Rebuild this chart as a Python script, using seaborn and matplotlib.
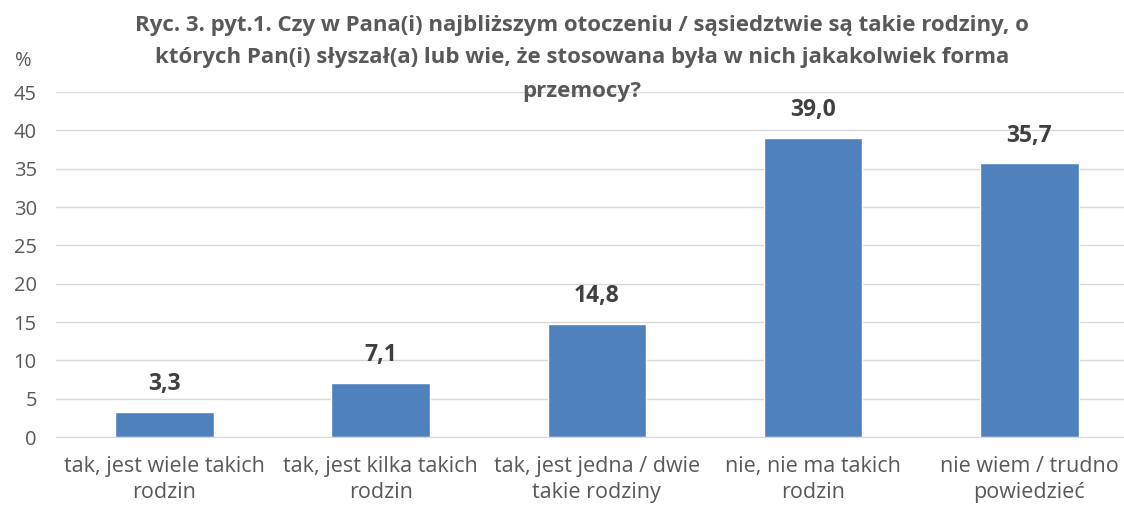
import matplotlib
matplotlib.use("Agg")
import matplotlib.pyplot as plt
import seaborn as sns
import pandas as pd

categories = [
    "tak, jest wiele takich\nrodzin",
    "tak, jest kilka takich\nrodzin",
    "tak, jest jedna / dwie\ntakie rodziny",
    "nie, nie ma takich\nrodzin",
    "nie wiem / trudno\npowiedzieć",
]
values = [3.3, 7.1, 14.8, 39.0, 35.7]
value_labels = ["3,3", "7,1", "14,8", "39,0", "35,7"]
y_ticks = [0, 5, 10, 15, 20, 25, 30, 35, 40, 45]

title_lines = [
    "Ryc. 3. pyt.1. Czy w Pana(i) najbliższym otoczeniu / sąsiedztwie są takie rodziny, o",
    "których Pan(i) słyszał(a) lub wie, że stosowana była w nich jakakolwiek forma",
    "przemocy?",
]

sns.set_style("white")
plt.rcParams['font.family'] = ['Open Sans', 'DejaVu Sans']

df = pd.DataFrame({"cat": categories, "val": values})

fig = plt.figure(figsize=(11.24, 5.07), dpi=100)
ax = fig.add_axes([0.05, 0.138, 0.962, 0.6805])

ax.set_axisbelow(True)
ax.yaxis.grid(True, color="#D9D9D9", linewidth=1)

sns.barplot(data=df, x="cat", y="val", color="#4F81BD", width=0.455,
            saturation=1, ax=ax)

for i, (v, lab) in enumerate(zip(values, value_labels)):
    ax.text(i, v + 3.6, lab, ha="center", va="center", fontsize=16.5,
            fontweight="bold", color="#404040")

ax.set_ylim(0, 45)
ax.set_xlim(-0.5, 4.5)
ax.set_yticks(y_ticks)
ax.tick_params(axis="y", labelsize=14.5, labelcolor="#595959", length=0, pad=14)
ax.tick_params(axis="x", labelsize=15.5, labelcolor="#595959", length=0, pad=14)
for t in ax.get_xticklabels():
    t.set_linespacing(1.3)
ax.set_xlabel("")
ax.set_ylabel("")
for s in ["top", "right", "left"]:
    ax.spines[s].set_visible(False)
ax.spines["bottom"].set_color("#D9D9D9")

# title in three separate lines, centred like the original
for line, ypix in zip(title_lines, [25, 58, 91]):
    fig.text(0.518, 1 - ypix / 507, line, ha="center", va="center", fontsize=16,
             fontweight="bold", color="#595959")
fig.text(0.013, 0.88, "%", ha="left", va="center", fontsize=14.5, color="#595959")

fig.savefig("out.png", dpi=100)
